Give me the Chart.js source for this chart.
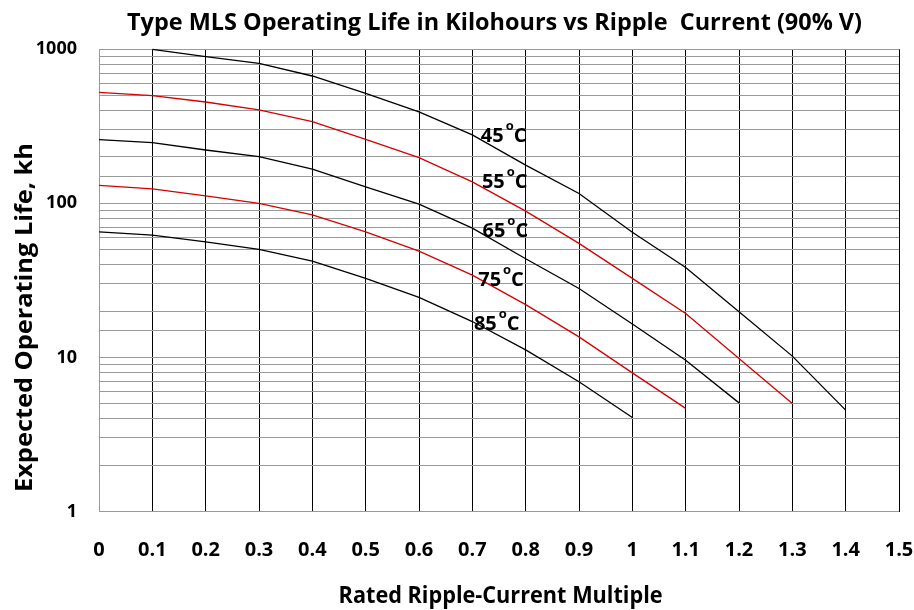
<!DOCTYPE html>
<html>
<head>
<meta charset="utf-8">
<script src="https://cdn.jsdelivr.net/npm/chart.js@4.4.1/dist/chart.umd.min.js"></script>
<style>
  html, body { margin: 0; padding: 0; background: #ffffff; }
  #c { display: block; }
</style>
</head>
<body>
<canvas id="c" width="914" height="610"></canvas>
<script>
// ---- data ----
const xGrid = [0, 0.1, 0.2, 0.3, 0.4, 0.5, 0.6, 0.7, 0.8, 0.9, 1.0, 1.1, 1.2, 1.3, 1.4, 1.5];
const xTickLabels = ['0', '0.1', '0.2', '0.3', '0.4', '0.5', '0.6', '0.7', '0.8', '0.9', '1', '1.1', '1.2', '1.3', '1.4', '1.5'];
const yTickValues = [1, 10, 100, 1000];
const yTickLabels = ['1', '10', '100', '1000'];

// x positions (ripple multiple) for each curve
const x45 = [0.1, 0.2, 0.3, 0.4, 0.5, 0.6, 0.7, 0.8, 0.9, 1.0, 1.1, 1.2, 1.3, 1.4];
const x55 = [0, 0.1, 0.2, 0.3, 0.4, 0.5, 0.6, 0.7, 0.8, 0.9, 1.0, 1.1, 1.2, 1.3];
const x65 = [0, 0.1, 0.2, 0.3, 0.4, 0.5, 0.6, 0.7, 0.8, 0.9, 1.0, 1.1, 1.2];
const x75 = [0, 0.1, 0.2, 0.3, 0.4, 0.5, 0.6, 0.7, 0.8, 0.9, 1.0, 1.1];
const x85 = [0, 0.1, 0.2, 0.3, 0.4, 0.5, 0.6, 0.7, 0.8, 0.9, 1.0];

// expected operating life, kh
const life45 = [1000, 895, 811, 671, 518, 393, 278, 177, 116, 65, 38.4, 19.8, 10.2, 4.55];
const life55 = [526, 500, 455, 404, 339, 260, 198, 138, 89, 55, 32.6, 19.3, 9.85, 5.03];
const life65 = [259, 248, 222, 201, 167, 128, 99, 69, 43.7, 28, 16.5, 9.6, 5.07];
const life75 = [131, 124, 112, 100, 84.3, 65.4, 49, 34.2, 22, 13.6, 7.94, 4.67];
const life85 = [65.4, 62.3, 56.3, 50.3, 42.2, 32.6, 24.5, 17.1, 11.2, 6.95, 4.08];

// curve labels (temperature) and their anchors in data units
const curveTemps = ['45', '55', '65', '75', '85'];
const labelAtX = [0.716, 0.718, 0.719, 0.711, 0.703];
const labelAtY = [278, 139, 67.3, 32.4, 16.8];

const titleText = 'Type MLS Operating Life in Kilohours vs Ripple  Current (90% V)';
const xTitleText = 'Rated Ripple-Current Multiple';
const yTitleText = 'Expected Operating Life, kh';

// ---- helpers ----
const FONT = '"Open Sans", "Liberation Sans", sans-serif';
const RED = '#d50000';
const BLACK = '#000000';

function pts(xs, ys) { return xs.map((x, i) => ({ x: x, y: ys[i] })); }

function fitText(ctx, text, cx, cy, size, width, rot) {
  ctx.save();
  ctx.font = 'bold ' + size + 'px ' + FONT;
  const w = ctx.measureText(text).width;
  const sx = width / w;
  ctx.translate(cx, cy);
  if (rot) ctx.rotate(rot);
  ctx.scale(sx, 1);
  ctx.fillStyle = '#000';
  ctx.textAlign = 'center';
  ctx.textBaseline = 'alphabetic';
  ctx.fillText(text, 0, 0);
  ctx.restore();
}

const textPlugin = {
  id: 'texts',
  beforeDraw(chart) {
    const ctx = chart.ctx;
    ctx.save();
    ctx.fillStyle = '#ffffff';
    ctx.fillRect(0, 0, chart.width, chart.height);
    ctx.restore();
  },
  afterDraw(chart) {
    const ctx = chart.ctx;
    const xs = chart.scales.x, ys = chart.scales.y;
    // titles
    fitText(ctx, titleText, 494.5, 30, 24, 735, 0);
    fitText(ctx, xTitleText, 500.6, 603, 24, 324, 0);
    fitText(ctx, yTitleText, 32, 317.5, 24, 349, -Math.PI / 2);
    // curve labels
    ctx.save();
    ctx.fillStyle = '#000';
    ctx.textAlign = 'left';
    ctx.textBaseline = 'alphabetic';
    curveTemps.forEach((t, i) => {
      const px = xs.getPixelForValue(labelAtX[i]);
      const py = ys.getPixelForValue(labelAtY[i]);
      ctx.font = 'bold 20px ' + FONT;
      const base = py + 7;
      ctx.fillText(t, px, base);
      let cx = px + ctx.measureText(t).width + 2;
      ctx.font = 'bold 13px ' + FONT;
      ctx.fillText('o', cx, py - 5);
      cx += ctx.measureText('o').width;
      ctx.font = 'bold 20px ' + FONT;
      ctx.fillText('C', cx, base);
    });
    ctx.restore();
  }
};

Chart.defaults.font.family = FONT;
Chart.defaults.color = '#000';

const lineDs = (label, xs, ys, color) => ({
  label: label,
  data: pts(xs, ys),
  borderColor: color,
  backgroundColor: color,
  borderWidth: 1.3,
  pointRadius: 0,
  pointHoverRadius: 0,
  tension: 0,
  fill: false,
  clip: false
});

new Chart(document.getElementById('c'), {
  type: 'line',
  data: {
    datasets: [
      lineDs('45', x45, life45, BLACK),
      lineDs('55', x55, life55, RED),
      lineDs('65', x65, life65, BLACK),
      lineDs('75', x75, life75, RED),
      lineDs('85', x85, life85, BLACK)
    ]
  },
  options: {
    responsive: false,
    animation: false,
    devicePixelRatio: 1,
    events: [],
    layout: { padding: { top: 49.3, right: 15, bottom: 0, left: 0 } },
    plugins: {
      legend: { display: false },
      title: { display: false },
      tooltip: { enabled: false }
    },
    scales: {
      x: {
        type: 'linear',
        min: 0,
        max: 1.5,
        afterBuildTicks: (scale) => { scale.ticks = xGrid.map(v => ({ value: v })); },
        afterFit: (scale) => {
          scale.height = 98.5;
          scale.paddingLeft = 0; scale.paddingRight = 0;
          scale.paddingTop = 0; scale.paddingBottom = 0;
        },
        grid: {
          color: (c) => (c.tick && c.tick.value === 0 ? '#9a9a9a' : '#000000'),
          lineWidth: 1,
          drawTicks: false
        },
        border: { display: false },
        ticks: {
          autoSkip: false,
          maxRotation: 0,
          padding: 27,
          font: { size: 20, weight: 'bold' },
          color: '#000',
          callback: (v, i) => xTickLabels[i]
        }
      },
      y: {
        type: 'logarithmic',
        min: 1,
        max: 1000,
        afterFit: (scale) => {
          scale.width = 99;
          scale.paddingTop = 0; scale.paddingBottom = 0;
        },
        grid: { color: '#9a9a9a', lineWidth: 1, drawTicks: false },
        border: { display: false },
        ticks: {
          autoSkip: false,
          padding: 22,
          font: { size: 18, weight: 'bold' },
          color: '#000',
          callback: (v) => {
            const k = yTickValues.indexOf(v);
            return k >= 0 ? yTickLabels[k] : '';
          }
        }
      }
    }
  },
  plugins: [textPlugin]
});
</script>
</body>
</html>
